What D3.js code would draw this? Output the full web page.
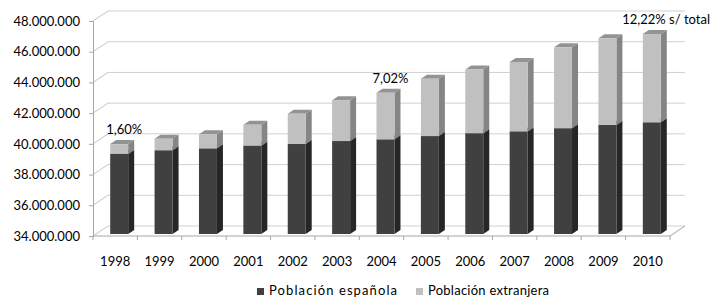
<!DOCTYPE html>
<html>
<head>
<meta charset="utf-8">
<script src="https://cdn.jsdelivr.net/npm/d3@7"></script>
<style>
  body { margin: 0; background: #fff; }
  svg { font-family: Lato, "Open Sans", sans-serif; }
</style>
</head>
<body>
<svg id="svg" width="711" height="298"></svg>
<script>
// datos del padrón
var years = ["1998", "1999", "2000", "2001", "2002", "2003", "2004", "2005", "2006", "2007", "2008", "2009", "2010"];
var espanola = [39215566, 39453206, 39575912, 39746185, 39859948, 40052896, 40163358, 40377920, 40564798, 40681183, 40889060, 41097136, 41273297];
var extranjera = [637085, 748954, 923879, 1370657, 1977946, 2664168, 3034326, 3730610, 4144166, 4519554, 5268762, 5648671, 5747734];
var yTicks = [34000000, 36000000, 38000000, 40000000, 42000000, 44000000, 46000000, 48000000];
var seriesNames = ["Población española", "Población extranjera"];
var notes = [{year: "1998", text: "1,60%"}, {year: "2004", text: "7,02%"}, {year: "2010", text: "12,22% s/ total"}];

var svg = d3.select("svg"),
    width = 711,
    depthX = 15, depthY = -10;

var x = d3.scaleBand()
        .domain(years)
        .range([93, 670]);

var y = d3.scaleLinear()
        .domain([34000000, 48000000])
        .range([236, 21]);

var fmt = function (v) {
    return d3.format(",d")(v).replace(/,/g, ".");
};

var wall = svg.append("g");

// rejilla del fondo
wall.selectAll(".grid")
        .data(yTicks)
        .enter().append("line")
        .attr("x1", 93 + depthX)
        .attr("x2", 670 + depthX)
        .attr("y1", function (d) { return y(d) + depthY; })
        .attr("y2", function (d) { return y(d) + depthY; })
        .attr("stroke", "#d0d0d0");

// pared izquierda
wall.selectAll(".side")
        .data(yTicks)
        .enter().append("line")
        .attr("x1", 93)
        .attr("x2", 93 + depthX)
        .attr("y1", function (d) { return y(d); })
        .attr("y2", function (d) { return y(d) + depthY; })
        .attr("stroke", "#c4c4c4");

// suelo
wall.append("path")
        .attr("d", "M93," + y(34000000) + "H670l" + depthX + "," + depthY)
        .attr("fill", "none")
        .attr("stroke", "#a6a6a6");

// eje y
var yAxis = svg.append("g")
        .attr("transform", "translate(93,0)")
        .call(d3.axisLeft(y).tickValues(yTicks).tickSize(4).tickPadding(9).tickFormat(fmt));
yAxis.select(".domain").attr("stroke", "#a6a6a6");
yAxis.selectAll(".tick line").attr("stroke", "#a6a6a6");
yAxis.selectAll("text").attr("font-size", "13px").attr("fill", "#000").attr("font-family", "Lato");

// eje x
var xAxis = svg.append("g")
        .attr("transform", "translate(0," + y(34000000) + ")")
        .call(d3.axisBottom(x).tickSize(0).tickPadding(21));
xAxis.select(".domain").remove();
xAxis.selectAll("text").attr("font-size", "13px").attr("fill", "#000").attr("font-family", "Lato");

svg.append("g").selectAll("line")
        .data(years.concat(["end"]))
        .enter().append("line")
        .attr("x1", function (d, i) { return 93 + i * x.bandwidth(); })
        .attr("x2", function (d, i) { return 93 + i * x.bandwidth(); })
        .attr("y1", y(34000000))
        .attr("y2", y(34000000) + 4)
        .attr("stroke", "#a6a6a6");

// barras 3D apiladas
var colors = [
    {front: "#404040", side: "#262626", top: "#555555"},
    {front: "#c0c0c0", side: "#858585", top: "#939393"}
];
var bw = x.bandwidth() * 0.405,
    f0 = 0.2, f1 = 0.6,
    sx = depthX * (f1 - f0), sy = depthY * (f1 - f0);

function barLeft(year) {
    return x(year) + x.bandwidth() * 0.32 + depthX * f0;
}

var bars = svg.append("g");
years.forEach(function (year, i) {
    var segs = [
        [34000000, espanola[i]],
        [espanola[i], espanola[i] + extranjera[i]]
    ];
    segs.forEach(function (s, k) {
        var x0 = barLeft(year),
            x1 = x0 + bw,
            yb = y(s[0]) + depthY * f0,
            yt = y(s[1]) + depthY * f0,
            c = colors[k];
        var g = bars.append("g");
        g.append("path")
                .attr("d", "M" + x1 + "," + yb + "L" + (x1 + sx) + "," + (yb + sy) +
                        "L" + (x1 + sx) + "," + (yt + sy) + "L" + x1 + "," + yt + "Z")
                .attr("fill", c.side);
        g.append("path")
                .attr("d", "M" + x0 + "," + yt + "L" + (x0 + sx) + "," + (yt + sy) +
                        "L" + (x1 + sx) + "," + (yt + sy) + "L" + x1 + "," + yt + "Z")
                .attr("fill", c.top);
        g.append("rect")
                .attr("x", x0)
                .attr("y", yt)
                .attr("width", bw)
                .attr("height", yb - yt)
                .attr("fill", c.front);
    });
});

// etiquetas
svg.append("g").selectAll("text")
        .data(notes)
        .enter().append("text")
        .attr("x", function (d, i) {
            return i < 2 ? barLeft(d.year) - 4 : width - 1;
        })
        .attr("y", function (d) {
            var i = years.indexOf(d.year);
            return y(espanola[i] + extranjera[i]) - 12;
        })
        .attr("text-anchor", function (d, i) { return i < 2 ? "start" : "end"; })
        .attr("font-size", "13px")
        .text(function (d) { return d.text; });

// leyenda
var legend = svg.append("g").selectAll("g")
        .data(seriesNames)
        .enter().append("g")
        .attr("transform", function (d, i) {
            return "translate(" + (257 + i * 159) + ",288)";
        });
legend.append("rect")
        .attr("width", 7)
        .attr("height", 7)
        .attr("fill", function (d, i) { return colors[i].front; });
legend.append("text")
        .attr("x", 12)
        .attr("y", 7)
        .attr("font-size", "13px")
        .attr("letter-spacing", function (d, i) { return i === 0 ? "1.1px" : "0.25px"; })
        .text(function (d) { return d; });
</script>
</body>
</html>
